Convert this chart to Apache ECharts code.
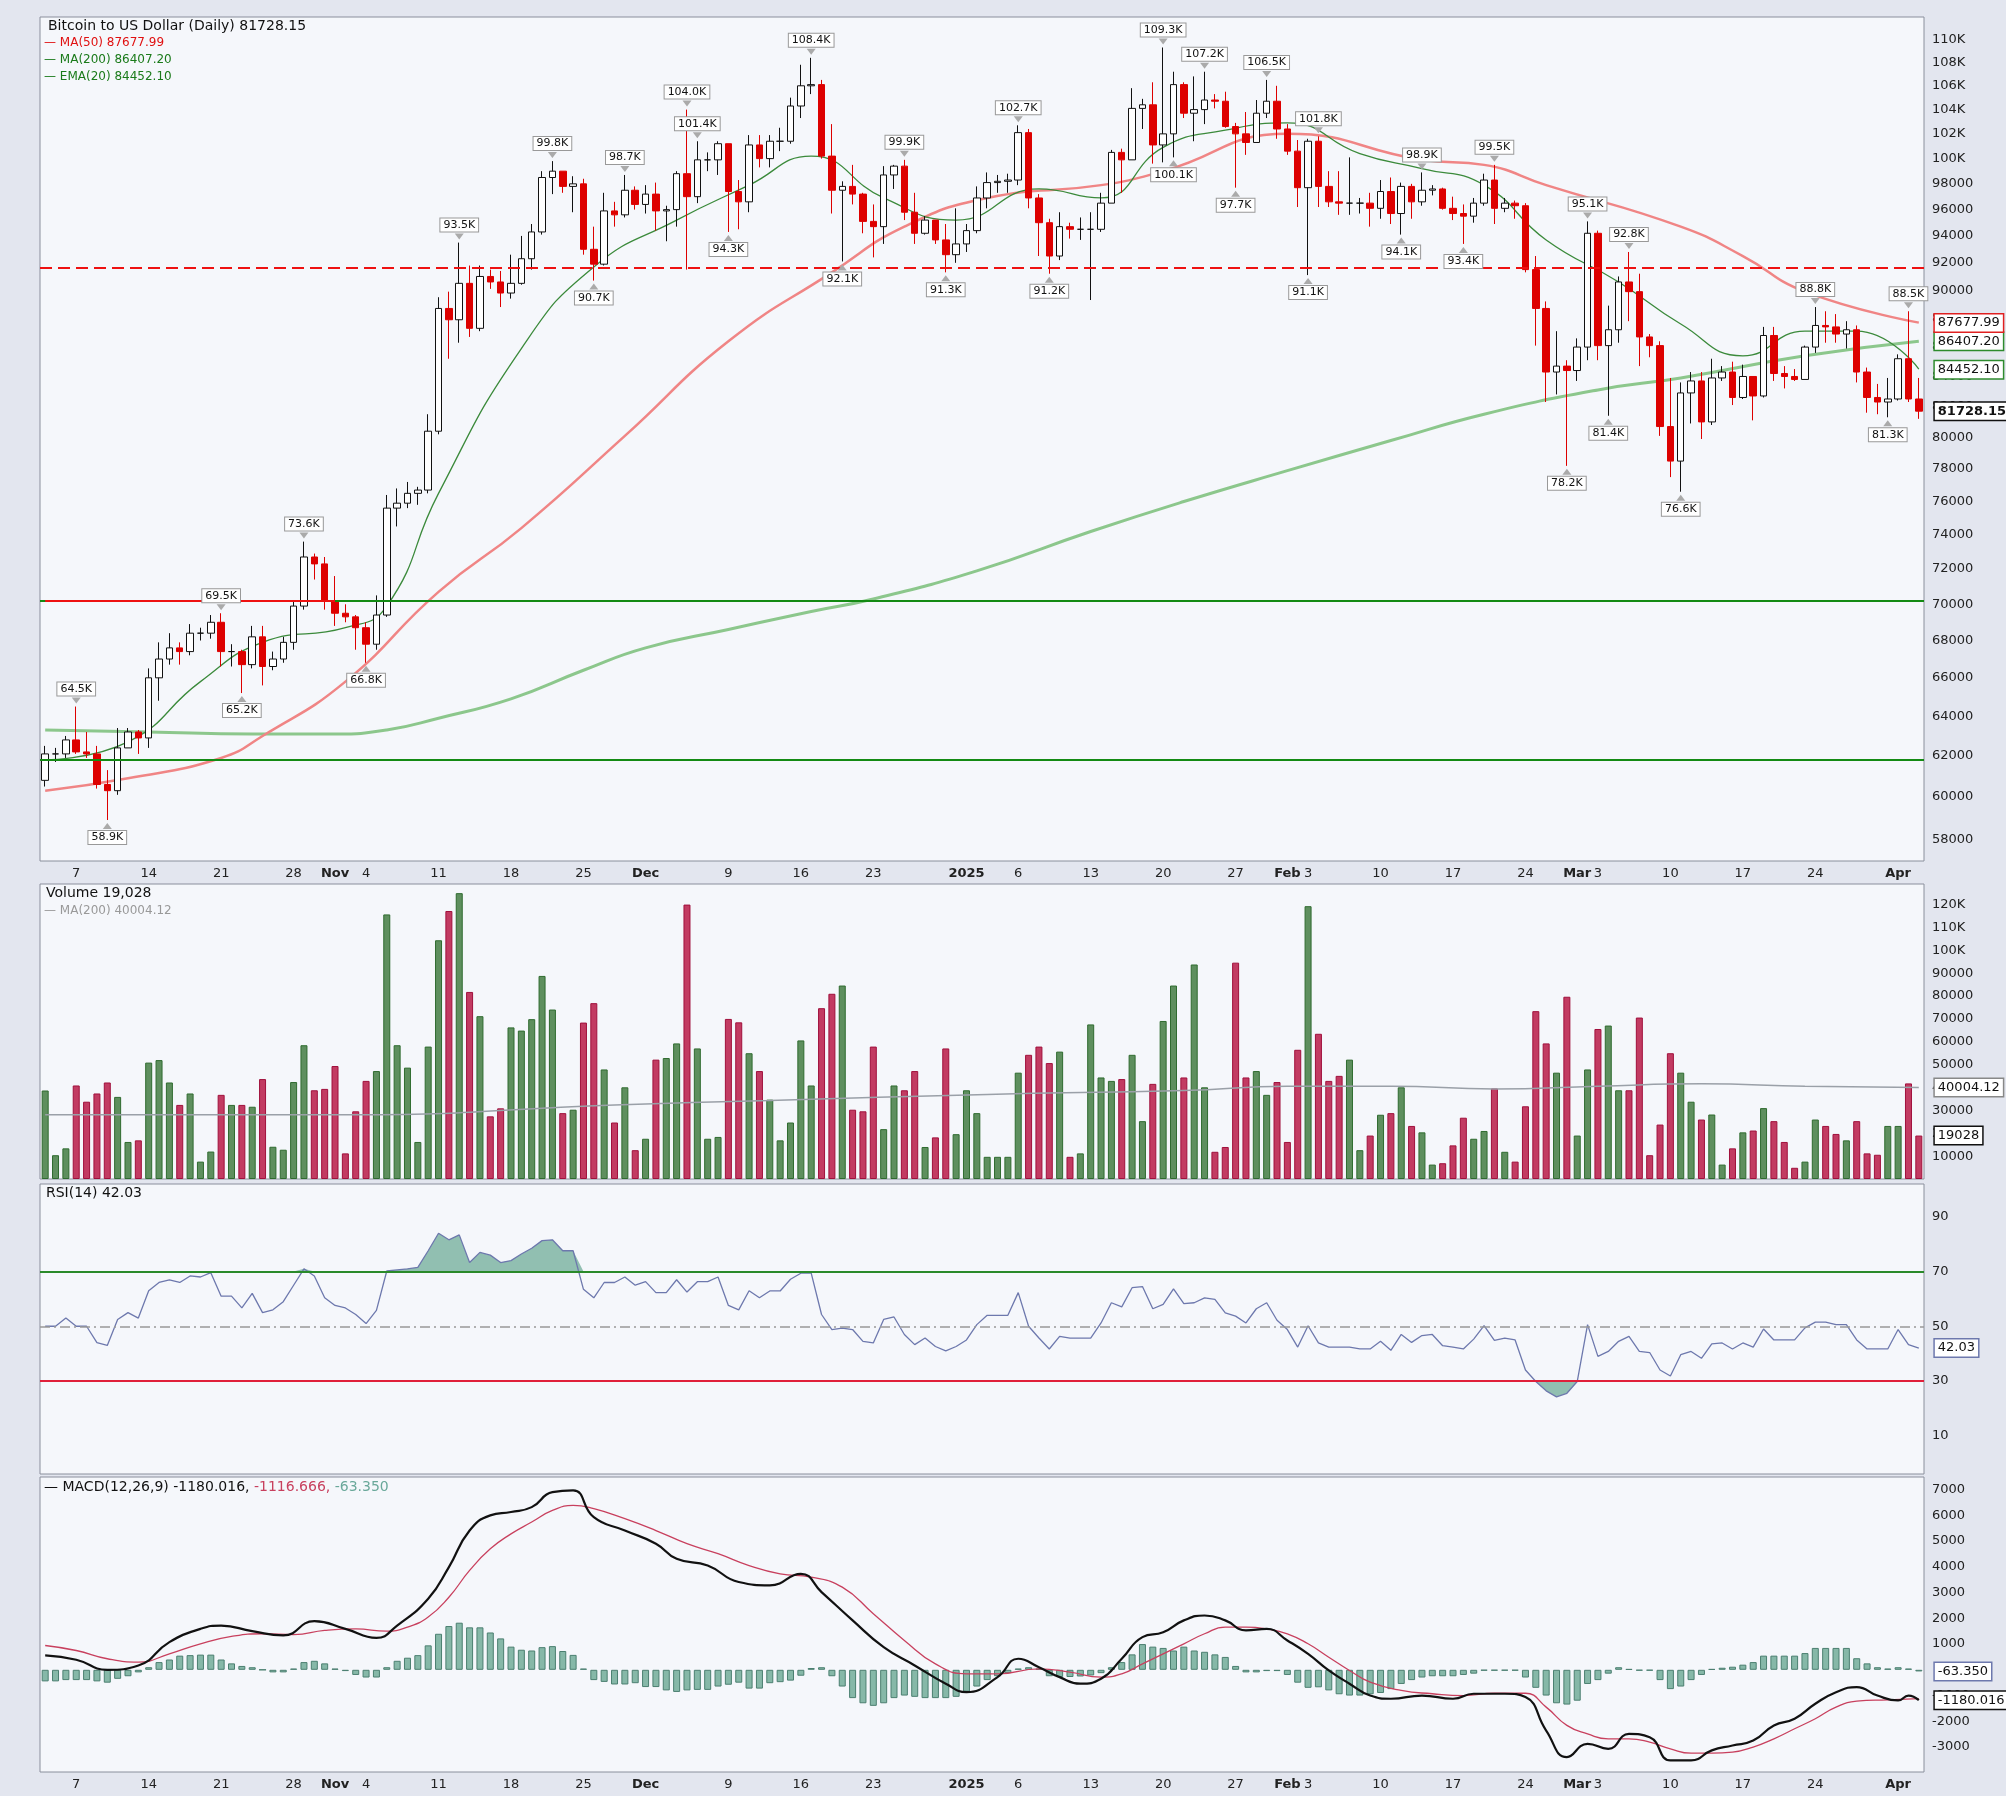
<!DOCTYPE html>
<html>
<head>
<meta charset="utf-8">
<script src="https://cdn.jsdelivr.net/npm/echarts@6/dist/echarts.min.js"></script>
<style>
html,body{margin:0;padding:0;background:#e3e6ef;}
#main{width:2006px;height:1796px;}
</style>
</head>
<body>
<div id="main"></div>
<script>
// daily closes / highs / lows in thousands of USD, Oct 4 2024 .. Apr 3 2025
var closes = [62.1,62.1,62.8,62.2,62.1,60.6,60.3,62.4,63.2,62.9,66.0,67.0,67.6,67.4,68.4,68.4,69.0,67.4,67.4,66.7,68.2,66.6,67.0,67.9,69.9,72.7,72.3,70.2,
  69.5,69.3,68.7,67.8,69.4,75.6,75.9,76.5,76.7,80.4,88.7,87.9,90.5,87.3,91.0,90.6,89.8,90.5,92.3,94.3,98.5,99.0,97.8,98.0,93.0,91.9,95.9,95.6,97.5,96.4,
  97.2,95.9,96.0,98.8,97.0,99.9,99.9,101.2,97.4,96.6,101.1,100.0,101.4,101.4,104.3,106.0,106.1,100.2,97.5,97.8,97.2,95.1,94.7,98.7,99.4,95.8,94.2,95.2,93.7,92.6,93.4,
  94.4,96.9,98.1,98.2,98.3,102.1,96.9,95.0,92.5,94.7,94.5,94.5,94.5,96.5,100.5,99.9,104.1,104.4,101.1,102.0,106.1,103.7,104.0,104.8,104.7,102.6,102.0,101.3,103.7,104.7,102.4,
  100.6,97.7,101.4,97.8,96.6,96.5,96.5,96.5,96.1,97.4,95.7,97.8,96.6,97.5,97.6,96.1,95.7,95.5,96.5,98.3,96.1,96.5,96.3,91.5,88.7,84.3,84.7,84.4,
  86.0,94.2,86.1,87.2,90.6,89.9,86.7,86.1,80.7,78.5,82.9,83.7,81.0,83.9,84.3,82.6,84.0,82.7,86.8,84.2,84.0,83.8,86.0,87.5,87.4,86.9,87.2,84.3,82.6,82.3,82.5,
  85.2,82.5,81.7];
var highs = [62.5,62.4,63.0,64.5,63.2,62.5,61.3,63.4,63.4,63.3,66.5,67.9,68.4,67.9,68.9,68.7,69.4,69.5,67.8,67.5,68.8,68.8,67.4,68.2,70.2,73.6,72.9,72.7,
  71.6,70.0,69.4,69.0,70.5,76.4,76.8,77.2,76.9,81.5,89.5,89.9,93.5,91.8,91.8,91.5,91.4,92.6,94.0,94.9,99.0,99.8,99.0,98.6,98.4,94.7,97.3,96.6,98.7,97.8,
  97.9,98.1,96.3,99.0,104.0,101.4,100.5,101.4,101.2,98.3,101.9,101.9,101.9,102.5,105.0,107.8,108.4,106.5,102.8,98.2,99.5,97.3,96.4,99.4,99.5,99.9,97.3,95.5,95.2,94.9,96.1,
  94.9,97.8,98.9,98.7,98.8,102.7,102.4,97.2,95.3,95.8,95.0,95.4,95.8,97.3,100.7,100.8,105.8,104.9,106.3,109.3,107.2,106.3,106.8,107.2,105.3,105.5,102.9,103.8,104.8,106.5,106.0,
  102.8,101.5,101.6,101.8,99.0,99.0,100.1,96.9,97.3,98.3,98.5,98.1,98.0,98.9,97.9,97.7,97.0,96.4,96.9,98.8,99.5,96.9,96.7,96.5,92.5,89.2,87.1,85.1,
  86.6,95.1,94.4,88.9,91.0,92.8,91.2,86.9,86.4,83.9,83.6,84.3,84.3,85.2,84.7,85.0,84.8,84.0,87.4,87.4,84.7,84.5,86.1,88.8,88.5,88.3,87.8,87.5,84.6,83.5,83.9,
  85.5,88.5,83.9];
var lows = [60.5,61.7,61.9,62.1,61.9,60.4,58.9,60.1,62.4,62.1,62.4,64.8,66.7,66.7,67.2,68.0,68.1,66.6,66.6,65.2,66.5,65.6,66.4,66.8,67.5,69.7,71.4,69.7,
  68.8,69.0,67.5,66.8,67.5,69.3,74.5,75.6,75.8,76.5,80.2,85.2,86.3,86.7,87.1,90.1,88.8,89.4,90.4,91.5,94.1,97.2,97.3,95.8,92.6,90.7,91.8,94.7,95.4,96.0,
  95.7,94.4,93.6,94.7,91.5,96.5,99.0,98.7,94.3,94.5,95.8,99.3,99.3,100.6,101.2,103.3,105.3,100.0,95.7,92.1,96.4,94.2,92.4,93.4,97.6,95.2,93.4,94.1,93.4,91.3,92.0,
  92.8,94.2,96.1,97.3,97.3,97.9,96.1,92.5,91.2,92.2,93.8,93.7,89.3,94.3,96.5,97.3,99.9,102.4,99.6,99.7,100.1,103.3,101.4,102.8,104.1,102.5,97.7,100.3,101.3,103.3,101.6,
  100.3,96.2,91.1,96.2,96.2,95.6,95.6,95.7,94.7,95.3,94.9,94.1,95.3,96.3,97.1,96.0,95.2,93.4,95.0,96.3,94.9,95.8,95.3,91.3,86.1,82.3,82.8,78.2,
  83.7,85.1,85.1,81.4,86.3,87.8,84.7,85.3,80.1,77.5,76.6,80.9,79.9,80.8,83.7,82.1,82.5,81.1,82.6,83.7,83.2,83.7,83.8,85.6,86.3,86.3,85.9,83.6,81.6,81.5,81.3,
  82.4,82.3,81.2];
var firstOpen = 60.8;

// volume in thousands
var volumes = [38.7,10.4,13.4,40.9,33.8,37.4,42.2,35.9,16.2,16.9,50.9,52.0,42.2,32.4,37.4,7.6,12.0,36.8,32.4,32.4,31.6,43.7,14.1,12.8,42.4,58.5,38.8,39.4,49.4,11.2,
  29.6,42.9,47.2,115.7,58.5,48.7,16.2,57.9,104.4,117.2,125.0,81.8,71.2,27.4,30.9,66.3,64.9,69.9,88.8,74.1,28.8,30.3,68.4,76.9,47.9,24.7,40.1,12.6,17.6,52.2,
  52.9,59.3,120.0,57.1,17.6,18.4,70.0,68.5,55.0,47.2,34.7,16.9,24.7,60.6,40.9,74.7,81.0,84.6,30.3,29.6,57.9,21.8,40.9,38.8,47.2,14.0,18.2,57.1,19.6,38.8,
  28.8,9.7,9.7,9.7,46.5,54.3,57.9,50.7,55.7,9.7,11.2,67.6,44.4,42.9,43.7,54.3,25.3,41.6,69.1,84.6,44.4,93.8,40.1,11.9,14.0,94.6,44.4,47.2,36.8,42.4,
  16.2,56.5,119.3,63.5,42.9,45.1,52.2,12.6,19.0,28.1,28.8,40.1,23.2,20.4,6.3,6.9,14.7,26.8,17.6,21.0,39.6,11.9,7.6,31.8,73.4,59.3,46.5,79.7,19.0,47.9,
  65.6,67.1,38.8,38.8,70.6,10.4,23.8,55.0,46.5,33.8,26.0,28.2,6.3,13.4,20.4,21.2,31.0,25.3,16.2,4.9,7.6,26.0,23.2,19.7,16.9,25.3,11.2,10.6,23.2,23.2,
  41.8,19.0];
var volMaIdx = [0,30,55,70,91,110,120,130,140,150,160,170,181];
var volMa = [28.1,28.1,32.4,34.3,37.0,38.7,40.6,40.6,39.4,40.6,41.6,40.6,40.0];

// moving averages read at sample days (thousands)
var ma200Idx = [0,10,20,28,33,38,45,52,58,66,74,80,90,101,110,120,130,139,150,158,170,181];
var ma200 = [63.3,63.2,63.1,63.1,63.3,63.9,64.9,66.4,67.6,68.6,69.6,70.3,71.9,74.2,76.0,77.9,79.8,81.5,83.1,83.9,85.4,86.4];
var ma50Idx = [0,8,17,21,29,38,46,56,66,76,83,91,102,108,120,133,139,145,158,164,170,181];
var ma50 = [60.3,60.9,61.9,63.0,65.8,70.7,74.4,80.1,86.4,91.3,94.7,96.9,97.9,99.0,102.0,99.9,99.5,97.9,94.7,92.5,89.9,87.7];
var ema20Idx = [0,8,15,21,29,33,38,46,53,61,68,74,81,88,96,102,108,114,120,127,133,139,145,152,158,164,170,175,181];
var ema20 = [61.8,62.7,65.8,67.9,68.7,69.9,76.5,85.9,91.7,95.2,97.9,100.2,96.9,95.2,97.6,96.9,100.9,102.3,102.9,100.4,99.2,97.9,93.7,90.6,87.6,85.4,87.1,87.1,84.5];

// RSI(14) daily
var rsi = [50,50,53,50,50,44,43,52.5,55,53,63,66,67,66,68.4,68,69.6,61,61,56.7,62,55,56,59,65,71,68.4,60.4,57.6,56.7,
  54.3,51,55.8,70.2,70.6,71,71.5,77.6,84,81.6,83.4,73.3,77,76,73.3,74,76.4,78.5,81.3,81.6,77.6,77.6,63.5,60.4,66,66,68,65,66.3,62.3,
  62.3,67,62.5,66.3,66.3,68,57.6,56,63,60.4,62.9,62.9,67.2,69.4,69.4,54.3,48.8,49.3,48.8,44.5,43.9,52.5,53.4,47,43.3,45.7,42.6,41,42.6,45,
  50.6,54,54,54,62.3,50,45.7,41.7,46.3,45.7,45.7,45.7,51.2,58.6,57.1,64.1,64.5,56.4,58,63.7,58.3,58.6,60.4,59.8,54.9,53.7,51.2,56.4,58.6,52.2,
  48.8,42.4,50.2,43.9,42.4,42.4,42.4,41.7,41.7,44.5,41.2,47,44.1,46.6,47,42.9,42.4,41.7,45.3,50.2,44.8,45.7,45,34,29.8,26.4,24.2,25.5,29.8,50.6,
  39,40.8,44.5,46.3,40.8,40.4,34,31.8,39.6,40.8,38.3,43.6,43.9,41.7,43.9,42.4,49,45,45,45,49.4,51.5,51.5,50.6,50.6,45,41.7,41.7,41.7,48.8,
  43.3,42.03];

// MACD(12,26,9) line and signal at sample days, histogram daily
var macdIdx = [0,3,6,9,12,15,17,20,23,26,29,32,34,37,39,41,43,45,47,49,51,53,56,59,61,64,67,70,73,75,78,81,84,87,89,92,94,96,98,100,102,104,106,108,110,112,114,116,118,120,122,124,126,128,130,133,136,138,141,143,145,147,149,151,153,155,157,159,161,163,165,167,169,171,173,175,177,179,180,181];
var macd = [557,390,0,170,1075,1590,1720,1500,1335,1890,1590,1240,1720,2760,3990,5410,6000,6130,6320,6900,6970,5930,5410,4900,4310,4050,3410,3280,3730,3020,1920,880,170,-540,-870,-285,430,100,-285,-540,-350,430,1270,1460,1920,2110,1920,1530,1590,1140,620,-25,-540,-1000,-1125,-1000,-1125,-930,-930,-1060,-2360,-3390,-2875,-3070,-2490,-2620,-3520,-3520,-3130,-2940,-2750,-2160,-1900,-1320,-870,-670,-1000,-1190,-1000,-1180];
var signalIdx = [0,3,6,9,12,15,18,21,24,27,30,33,35,37,39,41,43,45,47,49,51,53,56,59,62,65,68,71,74,77,80,83,86,89,92,96,99,102,104,106,108,110,112,114,116,118,120,122,124,126,128,131,134,137,140,143,145,147,149,151,153,155,157,159,161,163,165,167,169,171,173,175,178,181];
var signal = [945,750,430,300,620,1010,1295,1400,1370,1530,1590,1500,1660,2050,2820,3860,4700,5280,5740,6190,6390,6260,5870,5410,4900,4510,4050,3730,3600,3210,2180,1140,230,-155,-155,40,-90,-285,-155,230,620,1010,1400,1660,1660,1590,1400,1010,490,-25,-480,-800,-930,-1000,-910,-910,-1450,-2160,-2490,-2680,-2680,-2810,-3070,-3240,-3240,-3200,-3000,-2680,-2290,-1900,-1450,-1220,-1165,-1117];
var hist = [-450,-450,-400,-400,-400,-450,-500,-350,-250,-100,100,300,400,550,570,590,590,400,250,150,100,0,-100,-100,50,300,350,250,50,-50,
  -200,-300,-300,100,350,470,570,950,1400,1700,1830,1650,1650,1450,1220,900,780,750,880,920,730,580,50,-400,-470,-570,-570,-520,-670,-670,
  -800,-860,-800,-780,-780,-650,-580,-500,-730,-730,-520,-480,-420,-230,70,100,-250,-650,-1100,-1300,-1400,-1300,-1100,-1000,-1050,-1100,-1100,-1100,-1050,-850,
  -650,-400,-250,-130,50,100,50,-250,-280,-280,-260,-220,-130,100,300,600,1000,900,850,750,900,750,700,600,500,150,-100,-100,-50,-50,
  -200,-500,-700,-680,-800,-950,-1000,-1000,-950,-900,-750,-550,-400,-300,-250,-250,-250,-200,-150,-30,-30,-30,-30,-300,-700,-1000,-1300,-1350,-1200,-550,
  -400,-150,100,30,-30,-30,-400,-750,-650,-400,-200,30,80,120,200,300,550,550,550,550,650,850,850,850,850,450,250,100,50,100,
  50,-63];

// high / low annotation days
var peakIdx = [3,17,25,40,49,56,62,63,74,83,94,108,112,118,123,133,140,149,153,171,180];
var troughIdx = [6,19,31,53,66,77,87,97,109,115,122,131,137,147,151,158,178];

// axis labels
var priceTicks = [58000,60000,62000,64000,66000,68000,70000,72000,74000,76000,78000,80000,82000,84000,86000,88000,90000,92000,94000,96000,98000,100000,102000,104000,106000,108000,110000];
var rsiTicks = [10,30,50,70,90];
var macdTicks = [-3000,-2000,-1000,1000,2000,3000,4000,5000,6000,7000];
var dateTicks = [[3,'7'],[10,'14'],[17,'21'],[24,'28'],[28,'{b|Nov}'],[31,'4'],[38,'11'],[45,'18'],[52,'25'],[58,'{b|Dec}'],[66,'9'],[73,'16'],[80,'23'],
  [89,'{b|2025}'],[94,'6'],[101,'13'],[108,'20'],[115,'27'],[120,'{b|Feb}'],[122,'3'],[129,'10'],[136,'17'],[143,'24'],[148,'{b|Mar}'],[150,'3'],[157,'10'],[164,'17'],[171,'24'],[179,'{b|Apr}']];

var days = [];
for (var d = 0; d < closes.length; d++) {
    days.push(new Date(Date.UTC(2024, 9, 4 + d)).toISOString().slice(0, 10));
}
var tickMap = {};
dateTicks.forEach(function (t) { tickMap[t[0]] = t[1]; });

var candles = [], volData = [];
for (var i = 0; i < closes.length; i++) {
    var o = i === 0 ? firstOpen : closes[i - 1];
    candles.push([o * 1000, closes[i] * 1000, lows[i] * 1000, highs[i] * 1000]);
    var up = closes[i] >= o;
    volData.push({value: volumes[i] * 1000, itemStyle: {color: up ? '#5e8f5e' : '#c23b62', borderColor: up ? '#2f6b2f' : '#a0103c'}});
}
function pairs(idx, vals, k) {
    return idx.map(function (x, j) { return [x, vals[j] * k]; });
}
var last = closes.length - 1;
var FONT = 'DejaVu Sans';
var CLEAR = 'rgba(0,0,0,0)';

function tickMarkLine(ticks, fmt) {
    return {
        silent: true, symbol: 'none', animation: false,
        lineStyle: {color: CLEAR, width: 1},
        label: {position: 'end', distance: 8, color: '#222', fontFamily: FONT, fontSize: 13},
        data: ticks.map(function (v) { return {yAxis: v, label: {formatter: fmt(v)}}; })
    };
}
function tag(idx, v, text, border, bold) {
    return {
        coord: [idx, v], symbolSize: 0,
        label: {show: true, position: 'right', distance: 16, formatter: text,
            backgroundColor: '#fff', borderColor: border, borderWidth: 1.5, padding: [2, 3],
            color: '#111', fontFamily: FONT, fontSize: 13, fontWeight: bold ? 'bold' : 'normal'}
    };
}
function fmtK(v) { return (v / 1000).toFixed(1) + 'K'; }

var peakPoints = peakIdx.map(function (p) {
    return {coord: [p, highs[p] * 1000], value: fmtK(highs[p] * 1000), symbol: 'triangle', symbolRotate: 180,
        symbolSize: [9, 6], symbolOffset: [0, -6], itemStyle: {color: '#aaa'},
        label: {position: 'top', distance: 2}};
});
var troughPoints = troughIdx.map(function (p) {
    return {coord: [p, lows[p] * 1000], value: fmtK(lows[p] * 1000), symbol: 'triangle',
        symbolSize: [9, 6], symbolOffset: [0, 6], itemStyle: {color: '#aaa'},
        label: {position: 'bottom', distance: 2}};
});

var grids = [
    {left: 40, right: 82, top: 17, height: 844},
    {left: 40, right: 82, top: 884, height: 295},
    {left: 40, right: 82, top: 1184, height: 290},
    {left: 40, right: 82, top: 1477, height: 295}
];
grids.forEach(function (g) {
    g.show = true; g.backgroundColor = '#f5f7fb'; g.borderColor = '#8a8f9c'; g.borderWidth = 1;
});

function xAx(gi, labels) {
    return {
        type: 'category', gridIndex: gi, data: days, boundaryGap: true,
        axisLine: {show: false}, axisTick: {show: false}, splitLine: {show: false},
        axisLabel: {
            show: labels, margin: 6, color: '#222', fontFamily: FONT, fontSize: 13,
            interval: function (index) { return tickMap[index] !== undefined; },
            formatter: function (val, index) { return tickMap[index] || ''; },
            rich: {b: {fontWeight: 'bold', fontFamily: FONT, fontSize: 13, color: '#222'}}
        }
    };
}
var hiddenY = {axisLabel: {show: false}, axisTick: {show: false}, axisLine: {show: false}, splitLine: {show: false}};

var option = {
    animation: false,
    backgroundColor: '#e3e6ef',
    grid: grids,
    xAxis: [xAx(0, true), xAx(1, false), xAx(2, false), xAx(3, true)],
    yAxis: [
        Object.assign({type: 'log', gridIndex: 0, min: 57000, max: 112000, position: 'right'}, hiddenY),
        {type: 'value', gridIndex: 1, min: 0, max: 129000, interval: 10000, position: 'right',
            axisLine: {show: false}, axisTick: {show: false}, splitLine: {show: false},
            axisLabel: {color: '#222', fontFamily: FONT, fontSize: 13, showMinLabel: false, showMaxLabel: false,
                formatter: function (v) { return v >= 100000 ? (v / 1000) + 'K' : String(v); }}},
        Object.assign({type: 'value', gridIndex: 2, min: -4, max: 102, position: 'right'}, hiddenY),
        Object.assign({type: 'value', gridIndex: 3, min: -3970, max: 7490, position: 'right'}, hiddenY)
    ],
    series: [
        {
            name: 'BTC', type: 'candlestick', xAxisIndex: 0, yAxisIndex: 0, data: candles, barWidth: 7,
            itemStyle: {color: '#ffffff', borderColor: '#111', color0: '#dd0000', borderColor0: '#dd0000', borderWidth: 1},
            markArea: {silent: true, itemStyle: {color: 'rgba(255,230,0,0.75)'},
                data: [[{xAxis: last, yAxis: lows[last] * 1000 - 300}, {xAxis: last, yAxis: highs[last] * 1000 + 2500}]]},
            markLine: {
                silent: true, symbol: 'none', label: {show: false},
                data: [
                    {yAxis: 91600, lineStyle: {color: '#ee1111', type: [12, 6], width: 2}},
                    {yAxis: 70200, lineStyle: {color: '#138a13', type: 'solid', width: 2}},
                    {yAxis: 61800, lineStyle: {color: '#138a13', type: 'solid', width: 2}},
                    [{coord: [0, 70200], lineStyle: {color: '#ee1111', type: 'solid', width: 2}}, {coord: [28, 70200]}]
                ]
            },
            markPoint: {
                label: {show: true, formatter: '{c}', backgroundColor: '#fff', borderColor: '#999', borderWidth: 1,
                    padding: [1, 3], color: '#111', fontFamily: FONT, fontSize: 11},
                data: peakPoints.concat(troughPoints).concat([tag(last, closes[last] * 1000, '81728.15', '#111', true)])
            }
        },
        {name: 'MA(200)', type: 'line', xAxisIndex: 0, yAxisIndex: 0, data: pairs(ma200Idx, ma200, 1000), smooth: true, symbol: 'none',
            lineStyle: {color: '#8cc78c', width: 3}, z: 1,
            markLine: tickMarkLine(priceTicks, function (v) { return v >= 100000 ? (v / 1000) + 'K' : String(v); }),
            markPoint: {data: [tag(last, 86407.2, '86407.20', '#2e8b2e')]}},
        {name: 'MA(50)', type: 'line', xAxisIndex: 0, yAxisIndex: 0, data: pairs(ma50Idx, ma50, 1000), smooth: true, symbol: 'none',
            lineStyle: {color: '#f08585', width: 2.5}, z: 1,
            markPoint: {data: [tag(last, 87677.99, '87677.99', '#e02020')]}},
        {name: 'EMA(20)', type: 'line', xAxisIndex: 0, yAxisIndex: 0, data: pairs(ema20Idx, ema20, 1000), smooth: true, symbol: 'none',
            lineStyle: {color: '#3b8a3b', width: 1.3}, z: 1,
            markPoint: {data: [tag(last, 84452.1, '84452.10', '#2e8b2e')]}},

        {name: 'Volume', type: 'bar', xAxisIndex: 1, yAxisIndex: 1, data: volData, barWidth: 7,
            itemStyle: {borderWidth: 1},
            markPoint: {data: [tag(last, 19028, '19028', '#111')]}},
        {name: 'VolMA', type: 'line', xAxisIndex: 1, yAxisIndex: 1, data: pairs(volMaIdx, volMa, 1000), smooth: true, symbol: 'none',
            lineStyle: {color: '#9aa0a8', width: 1.5}, z: 3,
            markPoint: {data: [tag(last, 40004.12, '40004.12', '#888')]}},

        {name: 'RSI', type: 'line', xAxisIndex: 2, yAxisIndex: 2, data: rsi, symbol: 'none',
            lineStyle: {color: '#6d78ad', width: 1.3}, z: 4,
            markLine: {
                silent: true, symbol: 'none', animation: false,
                label: {position: 'end', distance: 8, color: '#222', fontFamily: FONT, fontSize: 13},
                data: [
                    {yAxis: 70, lineStyle: {color: '#2a8a2a', width: 2, type: 'solid'}, label: {formatter: '70'}},
                    {yAxis: 30, lineStyle: {color: '#e0203a', width: 2, type: 'solid'}, label: {formatter: '30'}},
                    {yAxis: 50, lineStyle: {color: '#999', width: 1.5, type: [10, 4, 2, 4]}, label: {formatter: '50'}},
                    {yAxis: rsiTicks[4], lineStyle: {color: CLEAR}, label: {formatter: '90'}},
                    {yAxis: rsiTicks[0], lineStyle: {color: CLEAR}, label: {formatter: '10'}}
                ]
            },
            markPoint: {data: [tag(last, rsi[last], '42.03', '#6d78ad')]}},
        {name: 'RSIhi', type: 'line', xAxisIndex: 2, yAxisIndex: 2, symbol: 'none', z: 2,
            data: rsi.map(function (v) { return v > 70 ? v : 70; }),
            lineStyle: {width: 0}, areaStyle: {origin: 70, color: '#86b8a8', opacity: 0.9}},
        {name: 'RSIlo', type: 'line', xAxisIndex: 2, yAxisIndex: 2, symbol: 'none', z: 2,
            data: rsi.map(function (v) { return v < 30 ? v : 30; }),
            lineStyle: {width: 0}, areaStyle: {origin: 30, color: '#86b8a8', opacity: 0.9}},

        {name: 'Hist', type: 'bar', xAxisIndex: 3, yAxisIndex: 3, data: hist, barWidth: 7,
            itemStyle: {color: '#86b8a8', borderColor: '#4b7f70', borderWidth: 1},
            markPoint: {data: [tag(last, -63.35, '-63.350', '#6d78ad')]}},
        {name: 'Signal', type: 'line', xAxisIndex: 3, yAxisIndex: 3, data: pairs(signalIdx, signal, 1), smooth: true, symbol: 'none',
            lineStyle: {color: '#c8405e', width: 1.3}, z: 4,
            markLine: tickMarkLine(macdTicks, function (v) { return String(v); })},
        {name: 'MACD', type: 'line', xAxisIndex: 3, yAxisIndex: 3, data: pairs(macdIdx, macd, 1), smooth: true, symbol: 'none',
            lineStyle: {color: '#111', width: 2.2}, z: 5,
            markPoint: {data: [tag(last, -1180.016, '-1180.016', '#111')]}}
    ],
    graphic: [
        {type: 'text', left: 48, top: 19, style: {text: 'Bitcoin to US Dollar (Daily) 81728.15', fill: '#111', font: '14px ' + FONT}},
        {type: 'text', left: 44, top: 37, style: {text: '— MA(50) 87677.99', fill: '#e01010', font: '12px ' + FONT}},
        {type: 'text', left: 44, top: 54, style: {text: '— MA(200) 86407.20', fill: '#1a7a1a', font: '12px ' + FONT}},
        {type: 'text', left: 44, top: 71, style: {text: '— EMA(20) 84452.10', fill: '#1a7a1a', font: '12px ' + FONT}},
        {type: 'text', left: 46, top: 886, style: {text: 'Volume 19,028', fill: '#111', font: '14px ' + FONT}},
        {type: 'text', left: 44, top: 905, style: {text: '— MA(200) 40004.12', fill: '#999', font: '12px ' + FONT}},
        {type: 'text', left: 46, top: 1186, style: {text: 'RSI(14) 42.03', fill: '#111', font: '14px ' + FONT}},
        {type: 'text', left: 44, top: 1480, style: {rich: {
            k: {fill: '#111', font: '14px ' + FONT}, r: {fill: '#c8405e', font: '14px ' + FONT}, g: {fill: '#6aa89a', font: '14px ' + FONT}},
            text: '{k|— MACD(12,26,9) -1180.016,}{r| -1116.666,}{g| -63.350}'}}
    ]
};

var chart = echarts.init(document.getElementById('main'));
chart.setOption(option);
window.addEventListener('resize', function () { chart.resize(); });
</script>
</body>
</html>
